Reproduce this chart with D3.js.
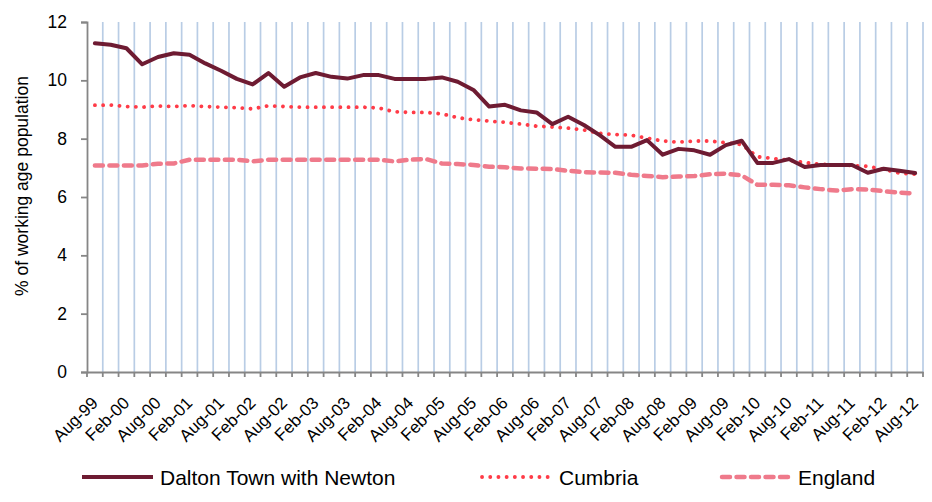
<!DOCTYPE html>
<html>
<head>
<meta charset="utf-8">
<script src="https://cdn.jsdelivr.net/npm/d3@7"></script>
<style>
  html, body { margin: 0; padding: 0; background: #ffffff; }
  svg { display: block; font-family: "Liberation Sans", Arial, sans-serif; }
</style>
</head>
<body>
<svg id="chart" width="932" height="502"></svg>
<script>
const categories = ["Aug-99","Nov-99","Feb-00","May-00","Aug-00","Nov-00","Feb-01","May-01","Aug-01","Nov-01",
  "Feb-02","May-02","Aug-02","Nov-02","Feb-03","May-03","Aug-03","Nov-03","Feb-04","May-04",
  "Aug-04","Nov-04","Feb-05","May-05","Aug-05","Nov-05","Feb-06","May-06","Aug-06","Nov-06",
  "Feb-07","May-07","Aug-07","Nov-07","Feb-08","May-08","Aug-08","Nov-08","Feb-09","May-09",
  "Aug-09","Nov-09","Feb-10","May-10","Aug-10","Nov-10","Feb-11","May-11","Aug-11","Nov-11",
  "Feb-12","May-12","Aug-12"];

const tickLabels = ["Aug-99","Feb-00","Aug-00","Feb-01","Aug-01","Feb-02","Aug-02","Feb-03","Aug-03",
  "Feb-04","Aug-04","Feb-05","Aug-05","Feb-06","Aug-06","Feb-07","Aug-07","Feb-08","Aug-08",
  "Feb-09","Aug-09","Feb-10","Aug-10","Feb-11","Aug-11","Feb-12","Aug-12"];

const yTicks = [0, 2, 4, 6, 8, 10, 12];

const dalton = [11.27, 11.22, 11.1, 10.55, 10.8, 10.93, 10.88, 10.58, 10.33, 10.05,
  9.86, 10.25, 9.78, 10.1, 10.25, 10.12, 10.06, 10.18, 10.18, 10.05,
  10.05, 10.05, 10.1, 9.95, 9.67, 9.1, 9.16, 8.97, 8.9, 8.5,
  8.75, 8.47, 8.12, 7.72, 7.72, 7.95, 7.45, 7.65, 7.6, 7.45,
  7.78, 7.93, 7.17, 7.17, 7.3, 7.03, 7.1, 7.1, 7.1, 6.83,
  6.97, 6.9, 6.82];

const cumbria = [9.15, 9.15, 9.1, 9.08, 9.12, 9.1, 9.13, 9.1, 9.08, 9.06,
  9.02, 9.13, 9.1, 9.08, 9.08, 9.08, 9.08, 9.08, 9.05, 8.92,
  8.9, 8.9, 8.85, 8.72, 8.65, 8.6, 8.56, 8.5, 8.43, 8.4,
  8.36, 8.3, 8.18, 8.14, 8.12, 8.02, 7.92, 7.88, 7.92, 7.92,
  7.86, 7.8, 7.38, 7.32, 7.26, 7.18, 7.12, 7.1, 7.08, 7.05,
  6.95, 6.82, 6.78];

const england = [7.08, 7.08, 7.08, 7.08, 7.14, 7.15, 7.28, 7.28, 7.28, 7.28,
  7.22, 7.28, 7.28, 7.28, 7.28, 7.28, 7.28, 7.28, 7.28, 7.22,
  7.28, 7.3, 7.15, 7.13, 7.1, 7.04, 7.02, 6.98, 6.97, 6.96,
  6.9, 6.85, 6.84, 6.83, 6.76, 6.72, 6.68, 6.7, 6.72, 6.78,
  6.8, 6.74, 6.42, 6.42, 6.4, 6.33, 6.27, 6.22, 6.27, 6.26,
  6.2, 6.15, 6.12];

const seriesNames = ["Dalton Town with Newton", "Cumbria", "England"];

const svg = d3.select("#chart");
const plotLeft = 87, plotRight = 923, plotTop = 22, plotBottom = 372;

const x = d3.scaleBand().domain(categories).range([plotLeft, plotRight]).padding(0);
const y = d3.scaleLinear().domain([0, 12]).range([plotBottom, plotTop]);

const gridColor = "#b9cde5";
const axisColor = "#868686";

// vertical gridlines at category boundaries
const boundaries = categories.map(c => x(c)).concat([x.range()[1]]);
svg.append("g").selectAll("line").data(boundaries.slice(1)).join("line")
  .attr("x1", d => d).attr("x2", d => d)
  .attr("y1", y(12)).attr("y2", y(0))
  .attr("stroke", gridColor).attr("stroke-width", 1.7);

// y axis
const yAxis = svg.append("g").attr("transform", `translate(${plotLeft},0)`)
  .call(d3.axisLeft(y).tickValues(yTicks).tickSize(6).tickPadding(14).tickFormat(d3.format("d")));
yAxis.select(".domain").attr("stroke", axisColor).attr("stroke-width", 1.8);
yAxis.selectAll(".tick line").attr("stroke", axisColor).attr("stroke-width", 1.8);
yAxis.selectAll(".tick text").attr("font-size", 17.5).attr("fill", "#000")
  .attr("font-family", "Liberation Sans, Arial, sans-serif");

// x axis (labels)
const xAxis = svg.append("g").attr("transform", `translate(0,${plotBottom})`)
  .call(d3.axisBottom(x).tickValues(tickLabels).tickSize(0).tickFormat(d => d));
xAxis.select(".domain").attr("stroke", axisColor).attr("stroke-width", 1.8);
xAxis.selectAll(".tick text")
  .attr("font-size", 17).attr("fill", "#000")
  .attr("font-family", "Liberation Sans, Arial, sans-serif")
  .attr("text-anchor", "end")
  .attr("dy", null).attr("y", null)
  .attr("transform", "translate(4,32) rotate(-45)");

// x tick marks at boundaries
svg.append("g").selectAll("line").data(boundaries).join("line")
  .attr("x1", d => d).attr("x2", d => d)
  .attr("y1", plotBottom).attr("y2", plotBottom + 5)
  .attr("stroke", axisColor).attr("stroke-width", 1.8);

// y title
svg.append("text")
  .attr("transform", `translate(28,186) rotate(-90)`)
  .attr("text-anchor", "middle")
  .attr("font-size", 17.5).attr("fill", "#000")
  .text("% of working age population");

// lines
const cx = i => x(categories[i]) + x.bandwidth() / 2;
const line = d3.line().x((d, i) => cx(i)).y(d => y(d)).curve(d3.curveLinear);

const styles = [
  { data: dalton, color: "#6e1b32", width: 4, dash: null, cap: "round" },
  { data: cumbria, color: "#ff3b47", width: 3.8, dash: "0.1 8.1", cap: "round" },
  { data: england, color: "#ef7a8b", width: 4.5, dash: "8 6.5", cap: "round" }
];

[2, 1, 0].forEach(k => {
  const s = styles[k];
  svg.append("path").datum(s.data)
    .attr("d", line)
    .attr("fill", "none")
    .attr("stroke", s.color)
    .attr("stroke-width", s.width)
    .attr("stroke-linejoin", "round")
    .attr("stroke-linecap", s.cap)
    .attr("stroke-dasharray", s.dash);
});

// legend
const legendY = 477;
const legendItems = [
  { x1: 82, x2: 153, tx: 160 },
  { x1: 482, x2: 550, tx: 559 },
  { x1: 722, x2: 790, tx: 798 }
];
legendItems.forEach((it, k) => {
  const s = styles[k];
  svg.append("line")
    .attr("x1", it.x1).attr("x2", it.x2).attr("y1", legendY).attr("y2", legendY)
    .attr("stroke", s.color).attr("stroke-width", s.width)
    .attr("stroke-linecap", k === 0 ? "butt" : s.cap)
    .attr("stroke-dasharray", s.dash);
  svg.append("text")
    .attr("x", it.tx).attr("y", legendY + 7.5)
    .attr("font-size", 21).attr("fill", "#000")
    .text(seriesNames[k]);
});
</script>
</body>
</html>
